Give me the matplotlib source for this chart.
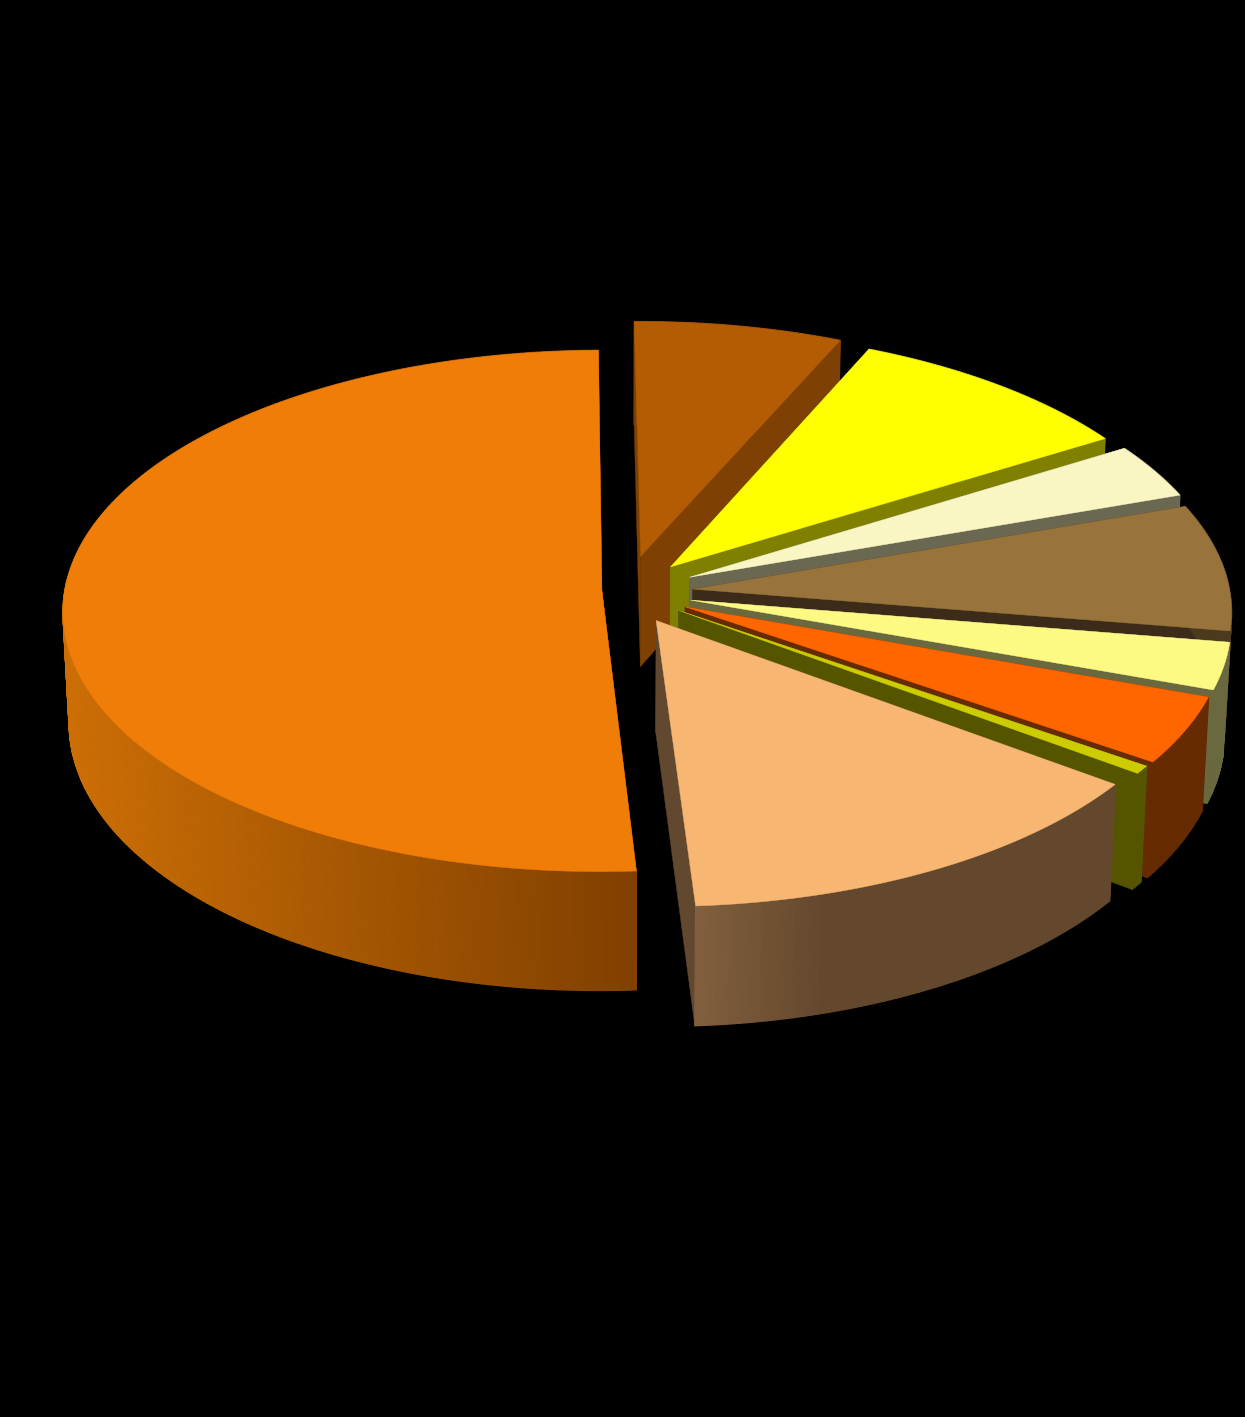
import numpy as np
import matplotlib
matplotlib.use('Agg')
import matplotlib.pyplot as plt
from matplotlib.patches import Polygon
from matplotlib.colors import to_rgb

# shares in percent, clockwise from 12 o'clock
shares = [6.8, 9.6, 3.44, 7.88, 2.9, 4.15, 0.5, 13.9, 50.83]
explode = [0.145, 0.13, 0.133, 0.127, 0.126, 0.125, 0.122, 0.12, 0.043]
nudge_y = [1, 0, 0, 0, 0, 0, 0, 1, -2]
top_colors = ['#b35c03', '#ffff00', '#faf6c3', '#98743c', '#fdfa84', '#ff6600', '#cccc00', '#f8b673', '#ef7d08']
cut_colors = ['#7f4003', '#808000', '#6a6850', '#3c2b18', '#6a683f', '#662b00', '#555500', '#61482e', '#7f4003']
rim_colors = ['#7f4003', '#808000', '#6a6850', '#4c3a1e', '#6a683f', '#662b00', '#555500', '#64482d', '#7f4003']
draw_order = [0, 1, 2, 3, 4, 5, 6, 8, 7]
start_deg = -0.6

# screen layout of the pie
cx, cy = 625, 592
rx, ry = 537, 259
persp = 0.0787
depth = 111
scale_x, scale_y = 0.989, 1.028


def project(X, Y, low=False):
    w = 1 + persp * Y
    dx = rx * X / w
    dy = -ry * Y / w
    if low:
        return cx + scale_x * dx, cy + depth + scale_y * dy
    return cx + dx, cy + dy


def mix(c1, c2, t):
    return tuple(a + (b - a) * t for a, b in zip(to_rgb(c1), to_rgb(c2)))


def rim_color(i, x):
    if i == 8:  # big slice, lighter to the left
        return mix('#804000', '#cc6e06', np.clip((637 - x) / 570, 0, 1))
    if i == 7:  # light orange slice, fades to the right
        return mix('#825f3f', '#64482d', np.clip((x - 697) / 130, 0, 1))
    return rim_colors[i]


fig = plt.figure(figsize=(12.45, 14.17), dpi=100, facecolor='black')
ax = fig.add_axes([0, 0, 1, 1])
ax.set_xlim(0, 1245)
ax.set_ylim(1417, 0)
ax.axis('off')

edges = np.radians(start_deg) + np.concatenate([[0], np.cumsum(shares)]) / np.sum(shares) * 2 * np.pi

for i in draw_order:
    a0, a1 = edges[i], edges[i + 1]
    bis = (a0 + a1) / 2
    ox, oy = explode[i] * np.sin(bis), explode[i] * np.cos(bis)
    th = np.linspace(a0, a1, max(int((a1 - a0) * 90), 4))
    X = ox + np.sin(th)
    Y = oy + np.cos(th)

    top_x, top_y = project(X, Y)
    low_x, low_y = project(X, Y, low=True)
    ax_top, ay_top = project(ox, oy)
    ax_low, ay_low = project(ox, oy, low=True)
    top_y = top_y + nudge_y[i]
    low_y = low_y + nudge_y[i]
    ay_top += nudge_y[i]
    ay_low += nudge_y[i]

    # the two cut faces
    for k in (0, -1):
        ax.add_patch(Polygon([(ax_top, ay_top), (top_x[k], top_y[k]), (low_x[k], low_y[k]), (ax_low, ay_low)],
                             closed=True, fc=cut_colors[i], ec=cut_colors[i], lw=0.3))
    # outer rim in strips so that the shading can change along it
    for k in range(len(th) - 1):
        c = rim_color(i, top_x[k])
        ax.add_patch(Polygon([(top_x[k], top_y[k]), (top_x[k + 1], top_y[k + 1]),
                              (low_x[k + 1], low_y[k + 1]), (low_x[k], low_y[k])],
                             closed=True, fc=c, ec=c, lw=1.0))
    # top face
    pts = [(ax_top, ay_top)] + list(zip(top_x, top_y))
    ax.add_patch(Polygon(pts, closed=True, fc=top_colors[i], ec=top_colors[i], lw=0.3))

fig.savefig('out.png', dpi=100, facecolor='black')
